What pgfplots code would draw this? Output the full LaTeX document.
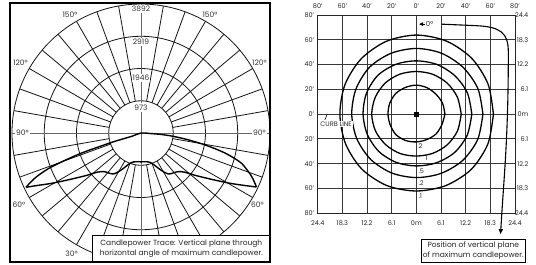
\documentclass[border=0pt]{standalone}
\usepackage{fontspec}
\setmainfont{Poppins}
\usepackage{pgfplots}
\pgfplotsset{compat=1.18}
\usetikzlibrary{arrows.meta}
\begin{document}
\begin{tikzpicture}
\useasboundingbox (0pt,0pt) rectangle (536pt,265pt);
% ---------------- left: candlepower trace (polar, candela) ----------------
\begin{axis}[
  at={(10pt,3pt)}, anchor=south west,
  x=0.033146pt, y=0.033146pt,
  xmin=-3952, xmax=3892, ymin=-3892, ymax=3922,
  axis line style={line width=1.2pt, black},
  ticks=none, clip=false, axis on top,
]
\draw[line width=0.8pt, black!92] (axis cs:0,0) circle[radius=973];
\draw[line width=0.8pt, black!92] (axis cs:0,0) circle[radius=1946];
\draw[line width=0.8pt, black!92] (axis cs:0,0) circle[radius=2919];
\draw[line width=0.8pt, black!92] (axis cs:0,0) circle[radius=3892];
\pgfplotsinvokeforeach{10,20,30,40,50,60,70,80,100,110,120,130,140,150,160,170}{
  \draw[line width=0.8pt, black!92] ({973*sin(#1)},{-973*cos(#1)}) -- ({3892*sin(#1)},{-3892*cos(#1)});
  \draw[line width=0.8pt, black!92] ({-973*sin(#1)},{-973*cos(#1)}) -- ({-3892*sin(#1)},{-3892*cos(#1)});
}
\draw[line width=0.8pt, black!60] (axis cs:-3892,0) -- (axis cs:3892,0);
\draw[line width=0.8pt, black!60] (axis cs:0,-3892) -- (axis cs:0,3892);
% radial value labels
\tikzset{lab/.style={font=\fontsize{7.5}{8}\selectfont, text=black!80, inner sep=1pt}}
\node[lab, fill=white] at (axis cs:0,3740) {3892};
\node[lab, fill=white] at (axis cs:0,2745) {2919};
\node[lab, fill=white] at (axis cs:0,1660) {1946};
\node[lab, fill=white, inner sep=1.5pt] at (axis cs:0,769) {973};
% angle labels
\node[lab] at (axis cs:-2142,3560) {150°};
\node[lab] at (axis cs:2082,3560) {150°};
\node[lab] at (axis cs:-3635,2112) {120°};
\node[lab] at (axis cs:3575,2112) {120°};
\node[lab, fill=white] at (axis cs:-3575,0) {90°};
\node[lab, fill=white] at (axis cs:3575,0) {90°};
\node[lab] at (axis cs:-3681,-2151) {60°};
\node[lab] at (axis cs:3515,-2151) {60°};
\node[lab] at (axis cs:-2097,-3629) {30°};
% candlepower curve: upper branch
\addplot[line width=1.4pt, black, smooth, tension=0.55] coordinates {
(-3470,-1638) (-3198,-1358) (-2797,-1077) (-2293,-824) (-1789,-603) (-1288,-422)
(-784,-250) (-281,-100) (0,0) (272,-15) (573,-39) (974,-100) (1478,-220)
(1982,-377) (2534,-603) (2987,-875) (3168,-1071) (3349,-1327) (3485,-1629)};
% lower branch
\addplot[line width=1.4pt, black, smooth, tension=0.55] coordinates {
(-3470,-1638) (-3138,-1584) (-2745,-1527) (-2353,-1448) (-1961,-1358) (-1599,-1267)
(-1327,-1183) (-1116,-1165) (-965,-1207) (-836,-1237) (-694,-1177) (-573,-1101)
(-422,-981) (-302,-899) (-211,-869) (0,-869) (211,-869) (302,-899) (422,-981)
(573,-1101) (694,-1177) (836,-1237) (965,-1207) (1116,-1165) (1327,-1183)
(1599,-1267) (1961,-1358) (2353,-1448) (2745,-1527) (3138,-1584) (3485,-1629)};
\draw[line width=0.8pt, fill=white] (axis cs:-1457,-3892) rectangle (axis cs:3892,-3077);
\node[align=center, font=\fontsize{7.5}{10.5}\selectfont, text=black!85] at (axis cs:1218,-3485)
  {Candlepower Trace: Vertical plane through\\horizontal angle of maximum candlepower.};
\end{axis}
% ---------------- right: isofootcandle plot (feet) ----------------
\begin{axis}[
  at={(317.7pt,51.7pt)}, anchor=south west,
  x=1.2331pt, y=1.2394pt,
  xmin=-80, xmax=80, ymin=-80, ymax=80,
  xtick={-80,-60,...,80}, ytick={-80,-60,...,80},
  xticklabels={24.4,18.3,12.2,6.1,0m,6.1,12.2,18.3,24.4},
  yticklabels={80',60',40',20',0',20',40',60',80'},
  grid=major, grid style={line width=0.9pt, black!78},
  axis line style={line width=0.9pt, black!85},
  major tick length=0pt,
  tick label style={font=\fontsize{6.5}{7}\selectfont, text=black!85},
  xticklabel style={inner sep=0pt, yshift=-7pt},
  clip=false,
]
\addplot[line width=1.3pt, black, smooth, data cs=polar] coordinates {
(0,23.2) (22.5,23.0) (45,22.6) (67.5,23.0) (90,23.4) (112.5,23.3) (135,23.6) (157.5,23.3)
(180,23.0) (202.5,22.9) (225,23.4) (247.5,23.0) (270,22.4) (292.5,22.2) (315,22.6) (337.5,22.4) (360,23.2)};
\addplot[line width=1.3pt, black, smooth, data cs=polar] coordinates {
(0,36.4) (22.5,36.0) (45,35.4) (67.5,34.8) (90,34.4) (112.5,34.9) (135,35.6) (157.5,36.0)
(180,36.2) (202.5,35.8) (225,35.0) (247.5,34.4) (270,33.8) (292.5,34.3) (315,35.2) (337.5,36.0) (360,36.4)};
\addplot[line width=1.3pt, black, smooth, data cs=polar] coordinates {
(0,45.0) (22.5,44.8) (45,44.0) (67.5,43.4) (90,43.0) (112.5,43.5) (135,44.2) (157.5,43.8)
(180,43.2) (202.5,43.0) (225,42.8) (247.5,42.2) (270,41.8) (292.5,42.5) (315,43.8) (337.5,44.6) (360,45.0)};
\addplot[line width=1.3pt, black, smooth, data cs=polar] coordinates {
(0,54.0) (22.5,54.0) (45,53.5) (67.5,53.2) (90,53.0) (112.5,53.2) (135,53.6) (157.5,53.0)
(180,52.4) (202.5,52.2) (225,52.0) (247.5,51.5) (270,51.2) (292.5,51.8) (315,53.0) (337.5,53.8) (360,54.0)};
\addplot[line width=1.3pt, black, smooth, data cs=polar] coordinates {
(0,62.5) (22.5,63.0) (45,63.6) (67.5,63.8) (90,63.8) (112.5,63.6) (135,63.2) (157.5,62.6)
(180,62.0) (202.5,62.2) (225,62.6) (247.5,62.4) (270,62.0) (292.5,62.4) (315,63.0) (337.5,62.8) (360,62.5)};
\addplot[only marks, mark=square*, mark size=2.2pt, black] coordinates {(0,0)};
\tikzset{clab/.style={font=\fontsize{6.5}{7}\selectfont, text=black!85, inner sep=0.5pt, anchor=west}}
\node[clab] at (axis cs:1.2,-25.6) {2};
\node[clab] at (axis cs:6.8,-35.8) {1};
\node[clab] at (axis cs:1.2,-45.8) {.5};
\node[clab] at (axis cs:1.2,-56.0) {.2};
\node[clab] at (axis cs:1.2,-66.0) {.1};
\node[clab, fill=white, inner sep=0.8pt] at (axis cs:-78.6,-8.1) {CURB LINE};
\draw[line width=0.6pt] (axis cs:-74.2,-4.6) .. controls (axis cs:-73.8,-2) .. (axis cs:-72.4,-0.3);
% 0 degree marker and position arrow
\draw[line width=0.9pt, -{Triangle[length=4pt,width=3.6pt]}] (axis cs:6.8,72.6) -- (axis cs:2.2,72.6);
\node[anchor=west, inner sep=0pt, font=\fontsize{7}{8}\selectfont, text=black!85] at (axis cs:7.6,72.6) {0°};
\draw[line width=1.1pt, -{Triangle[length=5pt,width=4pt]}] (axis cs:20.4,72.6) -- (axis cs:48,71.4)
  .. controls (axis cs:68,70.5) and (axis cs:74.6,66) .. (axis cs:74.6,50)
  .. controls (axis cs:74.6,-20) and (axis cs:71,-50) .. (axis cs:68.3,-96.8);
\draw[line width=0.8pt, fill=white] (axis cs:4.2,-100.9) rectangle (axis cs:88.8,-119.7);
\node[align=center, font=\fontsize{7.5}{10.5}\selectfont, text=black!85] at (axis cs:46.2,-110.3)
  {Position of vertical plane\\of maximum candlepower.};
\end{axis}
% overlay axis for top and right tick labels
\begin{axis}[
  at={(317.7pt,51.7pt)}, anchor=south west,
  x=1.2331pt, y=1.2394pt,
  xmin=-80, xmax=80, ymin=-80, ymax=80,
  xtick={-80,-60,...,80}, ytick={-80,-60,...,80},
  xticklabels={80',60',40',20',0',20',40',60',80'},
  yticklabels={24.4,18.3,12.2,6.1,0m,6.1,12.2,18.3,24.4},
  xticklabel pos=upper, yticklabel pos=right,
  axis line style={draw=none},
  major tick length=0pt,
  tick label style={font=\fontsize{6.5}{7}\selectfont, text=black!85},
  xticklabel style={inner sep=0pt, yshift=6.5pt},
  yticklabel style={anchor=east, inner sep=0pt, xshift=13.5pt},
]
\end{axis}
\end{tikzpicture}
\end{document}
